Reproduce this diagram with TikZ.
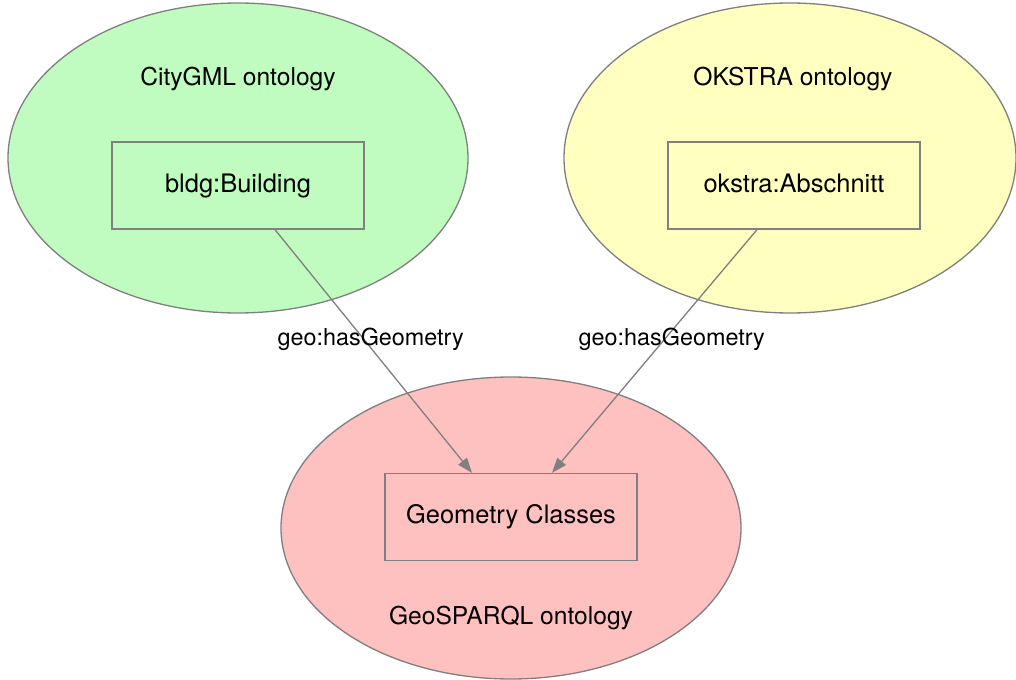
\documentclass[tikz,border=0pt]{standalone}
\usepackage{fontspec}
\setmainfont{TeX Gyre Heros}
\usetikzlibrary{arrows.meta}

\definecolor{citygreen}{HTML}{C0FCC0}
\definecolor{okyellow}{HTML}{FFFFC0}
\definecolor{geored}{HTML}{FFC0C0}
\definecolor{edgegray}{HTML}{808080}

\tikzset{
  onto/.style={draw=edgegray, line width=0.75pt},
  classbox/.style={draw=edgegray, line width=0.75pt, minimum width=5.04cm,
    minimum height=1.74cm, text height=1.6ex, text depth=0.1ex,
    font=\fontsize{14.5}{17}\selectfont},
  ontolabel/.style={font=\fontsize{14}{17}\selectfont},
  elabel/.style={font=\fontsize{13.3}{16}\selectfont},
  hasgeom/.style={draw=edgegray, line width=0.75pt,
    -{Triangle[length=3mm,width=2.2mm]}}
}

\begin{document}
\begin{tikzpicture}[scale=1.0]
\useasboundingbox (0,0) rectangle (20.32,-13.6);

% ontologies
\draw[onto, fill=citygreen] (4.76,-3.16) ellipse [x radius=4.6cm, y radius=3.1cm];
\draw[onto, fill=okyellow] (15.8,-3.16) ellipse [x radius=4.52cm, y radius=3.1cm];
\draw[onto, fill=geored] (10.22,-10.56) ellipse [x radius=4.6cm, y radius=3.02cm];

\node[ontolabel] (citygml) at (4.76,-1.58) {CityGML ontology};
\node[ontolabel] (okstra) at (15.86,-1.58) {OKSTRA ontology};
\node[ontolabel] (geosparql) at (10.22,-12.36) {GeoSPARQL ontology};

% classes
\node[classbox] (bldg) at (4.76,-3.71) {bldg:Building};
\node[classbox] (abschnitt) at (15.88,-3.71) {okstra:Abschnitt};
\node[classbox] (geom) at (10.22,-10.34) {Geometry Classes};

\draw[hasgeom] ([xshift=0.74cm]bldg.south) -- ([xshift=-0.78cm]geom.north)
  node[elabel, pos=0.45, xshift=1.4mm] {geo:hasGeometry};
\draw[hasgeom] ([xshift=-0.74cm]abschnitt.south) -- ([xshift=0.82cm]geom.north)
  node[elabel, pos=0.45, xshift=1.4mm] {geo:hasGeometry};
\end{tikzpicture}
\end{document}
